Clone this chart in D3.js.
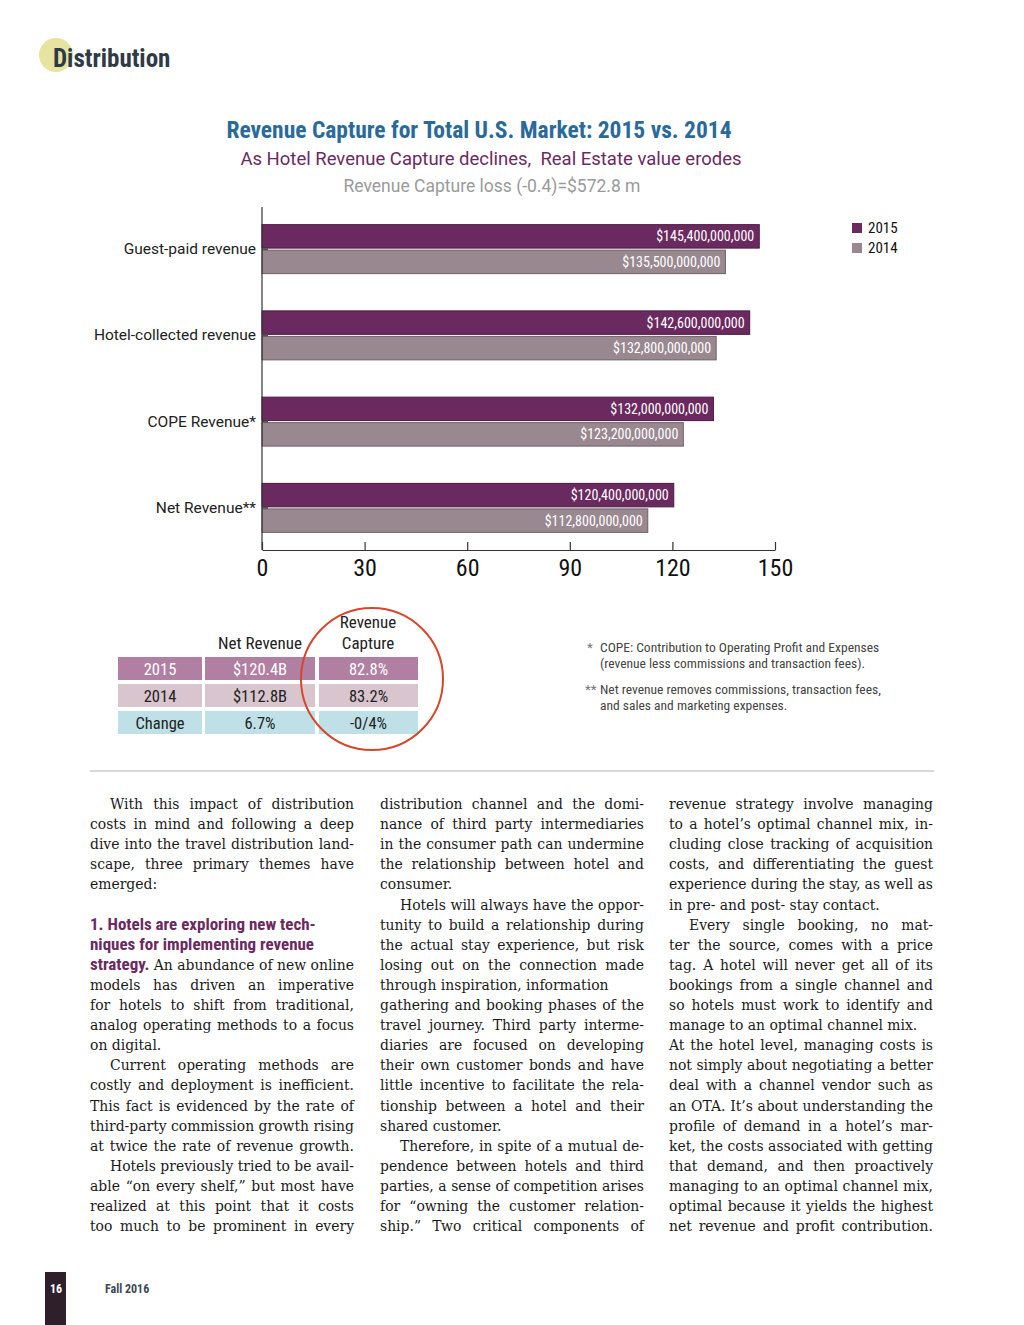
<!DOCTYPE html>
<html><head><meta charset="utf-8">
<script src="https://cdn.jsdelivr.net/npm/d3@7"></script>
<style>
html,body{margin:0;padding:0;background:#fff;}
svg{display:block;}
</style></head><body>
<svg id="c" width="1024" height="1325"></svg>
<script>
const categories = ["Guest-paid revenue","Hotel-collected revenue","COPE Revenue*","Net Revenue**"];
const years = ["2015","2014"];
const values2015 = [145.4,142.6,132.0,120.4];
const values2014 = [135.5,132.8,123.2,112.8];
const barLabels2015 = ["$145,400,000,000","$142,600,000,000","$132,000,000,000","$120,400,000,000"];
const barLabels2014 = ["$135,500,000,000","$132,800,000,000","$123,200,000,000","$112,800,000,000"];
const xTicks = [0,30,60,90,120,150];
const tableRowNames = ["2015","2014","Change"];
const tableNetRevenue = ["$120.4B","$112.8B","6.7%"];
const tableCapture = ["82.8%","83.2%","-0/4%"];

const C15="#6b2a5f", C14="#9a8891";
const svg=d3.select("#c");
const COND='"Liberation Sans Narrow","Roboto Condensed",Roboto,sans-serif';

// header
svg.append("circle").attr("cx",56).attr("cy",55).attr("r",17).attr("fill","#e8e4a0");
svg.append("text").attr("x",53).attr("y",67).attr("font-family",COND).attr("font-weight","bold")
  .attr("font-size",25).attr("fill","#2e3b47").text("Distribution");

// titles
svg.append("text").attr("x",479).attr("y",138).attr("text-anchor","middle").attr("font-family",COND)
  .attr("font-weight","bold").attr("font-size",23.5).attr("fill","#2a6a9b").text("Revenue Capture for Total U.S. Market: 2015 vs. 2014");
svg.append("text").attr("x",491).attr("y",165).attr("text-anchor","middle").attr("font-family","Roboto,sans-serif")
  .attr("font-size",18.5).attr("fill","#6b2a5f").attr("xml:space","preserve").style("white-space","pre").text("As Hotel Revenue Capture declines,  Real Estate value erodes");
svg.append("text").attr("x",492).attr("y",192).attr("text-anchor","middle").attr("font-family","Roboto,sans-serif")
  .attr("font-size",17.5).attr("fill","#9a9a9a").text("Revenue Capture loss (-0.4)=$572.8 m");

// chart
const x=d3.scaleLinear().domain([0,150]).range([262,775]);
const y=d3.scaleBand().domain(categories).range([206,551]).paddingInner(0.432).paddingOuter(0.216);
const ySub=d3.scaleBand().domain(years).range([0,y.bandwidth()]).paddingInner(0.08);
const g=svg.append("g");
const data=categories.map((c,i)=>({c,v:[values2015[i],values2014[i]],l:[barLabels2015[i],barLabels2014[i]]}));
data.forEach(d=>{
  years.forEach((yr,j)=>{
    const y0=y(d.c)+ySub(yr);
    g.append("rect").attr("x",x(0)).attr("y",y0).attr("width",x(d.v[j])-x(0)).attr("height",ySub.bandwidth())
      .attr("fill",j===0?C15:C14).attr("stroke",j===0?"#4a1c40":"#6e6068").attr("stroke-width",1);
    g.append("text").attr("x",x(d.v[j])-5).attr("y",y0+ySub.bandwidth()/2+5).attr("text-anchor","end")
      .attr("font-family",COND).attr("font-size",14).attr("fill","#fff").text(d.l[j]);
  });
  g.append("text").attr("x",256).attr("y",y(d.c)+y.bandwidth()/2+5).attr("text-anchor","end")
    .attr("font-family","Roboto,sans-serif").attr("font-size",15.5).attr("fill","#222").text(d.c);
  g.append("line").attr("x1",262).attr("x2",268).attr("y1",y(d.c)+y.bandwidth()/2).attr("y2",y(d.c)+y.bandwidth()/2)
    .attr("stroke","#555").attr("stroke-width",2);
});
svg.append("line").attr("x1",262).attr("x2",262).attr("y1",207).attr("y2",550).attr("stroke","#333").attr("stroke-width",1.2);
const ax=svg.append("g").attr("transform","translate(0,550)")
  .call(d3.axisBottom(x).tickValues(xTicks).tickSizeInner(-8).tickSizeOuter(0).tickPadding(9).tickFormat(d3.format("d")));
ax.select(".domain").attr("stroke","#333").attr("stroke-width",1.2);
ax.selectAll(".tick line").attr("stroke","#333").attr("stroke-width",1.2);
ax.selectAll("text").attr("font-family",COND).attr("font-size",24).attr("fill","#111").attr("dy","0.71em");

// legend
const lg=svg.append("g");
years.forEach((yr,j)=>{
  lg.append("rect").attr("x",852).attr("y",223+j*20).attr("width",10).attr("height",10).attr("fill",j===0?C15:C14);
  lg.append("text").attr("x",868).attr("y",233+j*20).attr("font-family",COND).attr("font-size",15).attr("fill","#111").text(yr);
});

// table
const cols=[{x:118,w:84},{x:205,w:110},{x:319,w:99}];
const rowY=[657,684,711], rowH=23;
const rowFill=["#b07fa2","#d8c5cd","#bfe0e6"], rowText=["#fff","#222","#222"];
const tableRows=tableRowNames.map((n,i)=>[n,tableNetRevenue[i],tableCapture[i]]);
tableRows.forEach((r,i)=>{
  r.forEach((v,j)=>{
    svg.append("rect").attr("x",cols[j].x).attr("y",rowY[i]).attr("width",cols[j].w).attr("height",rowH).attr("fill",rowFill[i]);
    svg.append("text").attr("x",cols[j].x+cols[j].w/2).attr("y",rowY[i]+17.5).attr("text-anchor","middle")
      .attr("font-family",COND).attr("font-size",16.5).attr("fill",rowText[i]).text(v);
  });
});
[["Net Revenue",260,649],["Revenue",368,628],["Capture",368,649]].forEach(h=>{
  svg.append("text").attr("x",h[1]).attr("y",h[2]).attr("text-anchor","middle").attr("font-family",COND).attr("font-size",17).attr("fill","#222").text(h[0]);
});
svg.append("circle").attr("cx",372).attr("cy",679).attr("r",71).attr("fill","none").attr("stroke","#d5472c").attr("stroke-width",2);

// footnotes
const fn=[["*",652,"COPE: Contribution to Operating Profit and Expenses"],["",668,"(revenue less commissions and transaction fees)."],
          ["**",694,"Net revenue removes commissions, transaction fees,"],["",710,"and sales and marketing expenses."]];
fn.forEach(f=>{
  if(f[0]) svg.append("text").attr("x",f[0]==="*"?587:585).attr("y",f[1]).attr("font-family",COND).attr("font-size",13.5).attr("fill","#777").text(f[0]);
  svg.append("text").attr("x",600).attr("y",f[1]).attr("font-family",COND).attr("font-size",13.5).attr("fill","#444").text(f[2]);
});

svg.append("line").attr("x1",90).attr("x2",934).attr("y1",771).attr("y2",771).attr("stroke","#ccc").attr("stroke-width",1.5);

// body text
const colX=[90,380,669], colW=264, lineH=20.1, y0=809;
const col1=[["With this impact of distribution",1,1],["costs in mind and following a deep",0,1],["dive into the travel distribution land-",0,1],
["scape, three primary themes have",0,1],["emerged:",0,0],null,["B|1. Hotels are exploring new tech-",0,0],["B|niques for implementing revenue",0,0],
["S|strategy.| An abundance of new online",0,1],["models has driven an imperative",0,1],["for hotels to shift from traditional,",0,1],
["analog operating methods to a focus",0,1],["on digital.",0,0],["Current operating methods are",1,1],["costly and deployment is inefficient.",0,1],
["This fact is evidenced by the rate of",0,1],["third-party commission growth rising",0,1],["at twice the rate of revenue growth.",0,1],
["Hotels previously tried to be avail-",1,1],["able “on every shelf,” but most have",0,1],["realized at this point that it costs",0,1],["too much to be prominent in every",0,1]];
const col2=[["distribution channel and the domi-",0,1],["nance of third party intermediaries",0,1],["in the consumer path can undermine",0,1],
["the relationship between hotel and",0,1],["consumer.",0,0],["Hotels will always have the oppor-",1,1],["tunity to build a relationship during",0,1],
["the actual stay experience, but risk",0,1],["losing out on the connection made",0,1],["through inspiration, information",0,1],
["gathering and booking phases of the",0,1],["travel journey. Third party interme-",0,1],["diaries are focused on developing",0,1],
["their own customer bonds and have",0,1],["little incentive to facilitate the rela-",0,1],["tionship between a hotel and their",0,1],
["shared customer.",0,0],["Therefore, in spite of a mutual de-",1,1],["pendence between hotels and third",0,1],
["parties, a sense of competition arises",0,1],["for “owning the customer relation-",0,1],["ship.” Two critical components of",0,1]];
const col3=[["revenue strategy involve managing",0,1],["to a hotel’s optimal channel mix, in-",0,1],["cluding close tracking of acquisition",0,1],
["costs, and differentiating the guest",0,1],["experience during the stay, as well as",0,1],["in pre- and post- stay contact.",0,0],
["Every single booking, no mat-",1,1],["ter the source, comes with a price",0,1],["tag. A hotel will never get all of its",0,1],
["bookings from a single channel and",0,1],["so hotels must work to identify and",0,1],["manage to an optimal channel mix.",0,0],
["At the hotel level, managing costs is",0,1],["not simply about negotiating a better",0,1],["deal with a channel vendor such as",0,1],
["an OTA. It’s about understanding the",0,1],["profile of demand in a hotel’s mar-",0,1],["ket, the costs associated with getting",0,1],
["that demand, and then proactively",0,1],["managing to an optimal channel mix,",0,1],["optimal because it yields the highest",0,1],
["net revenue and profit contribution.",0,1]];
const SERIF='"DejaVu Serif","Liberation Serif",serif';
// calibrate serif size from a known unjustified line width (211px in reference)
const probe=svg.append("text").attr("font-family",SERIF).attr("font-size",20).text("in pre- and post- stay contact.");
const bodySize=20*211/probe.node().getComputedTextLength(); probe.remove();
const probeB=svg.append("text").attr("font-family",COND).attr("font-weight","bold").attr("font-size",20).text("1. Hotels are exploring new tech-");
const boldSize=20*226/probeB.node().getComputedTextLength(); probeB.remove();

[col1,col2,col3].forEach((col,ci)=>{
  col.forEach((ln,li)=>{
    if(!ln) return;
    const xx=colX[ci]+(ln[1]?20:0), w=colW-(ln[1]?20:0), yy=y0+li*lineH;
    let s=ln[0];
    const t=svg.append("text").attr("x",xx).attr("y",yy).attr("font-size",bodySize).attr("fill","#1a1a1a").attr("font-family",SERIF);
    if(s.startsWith("B|")){
      t.attr("font-family",COND).attr("font-weight","bold").attr("fill","#6b2a5f").attr("font-size",boldSize).text(s.slice(2));
    } else if(s.startsWith("S|")){
      const p=s.split("|");
      t.append("tspan").attr("font-family",COND).attr("font-weight","bold").attr("font-size",boldSize).attr("fill","#6b2a5f").text(p[1]);
      t.append("tspan").text(p[2]);
    } else t.text(s);
    if(ln[2]){
      const L=t.node().getComputedTextLength();
      const spaces=(t.text().match(/ /g)||[]).length;
      if(spaces>0){ const ws=(w-L)/spaces; if(ws>-2.5 && ws<12) t.attr("word-spacing",ws); else if(ws<=-2.5) t.attr("textLength",w).attr("lengthAdjust","spacingAndGlyphs"); }
    }
  });
});

// footer
svg.append("rect").attr("x",45).attr("y",1272).attr("width",21).attr("height",53).attr("fill","#2e1f2a");
svg.append("text").attr("x",56).attr("y",1293).attr("text-anchor","middle").attr("font-family",COND).attr("font-weight","bold")
  .attr("font-size",12).attr("fill","#fff").text("16");
svg.append("text").attr("x",105).attr("y",1293).attr("font-family",COND).attr("font-weight","bold")
  .attr("font-size",12).attr("fill","#3d4a55").text("Fall 2016");
</script></body></html>
